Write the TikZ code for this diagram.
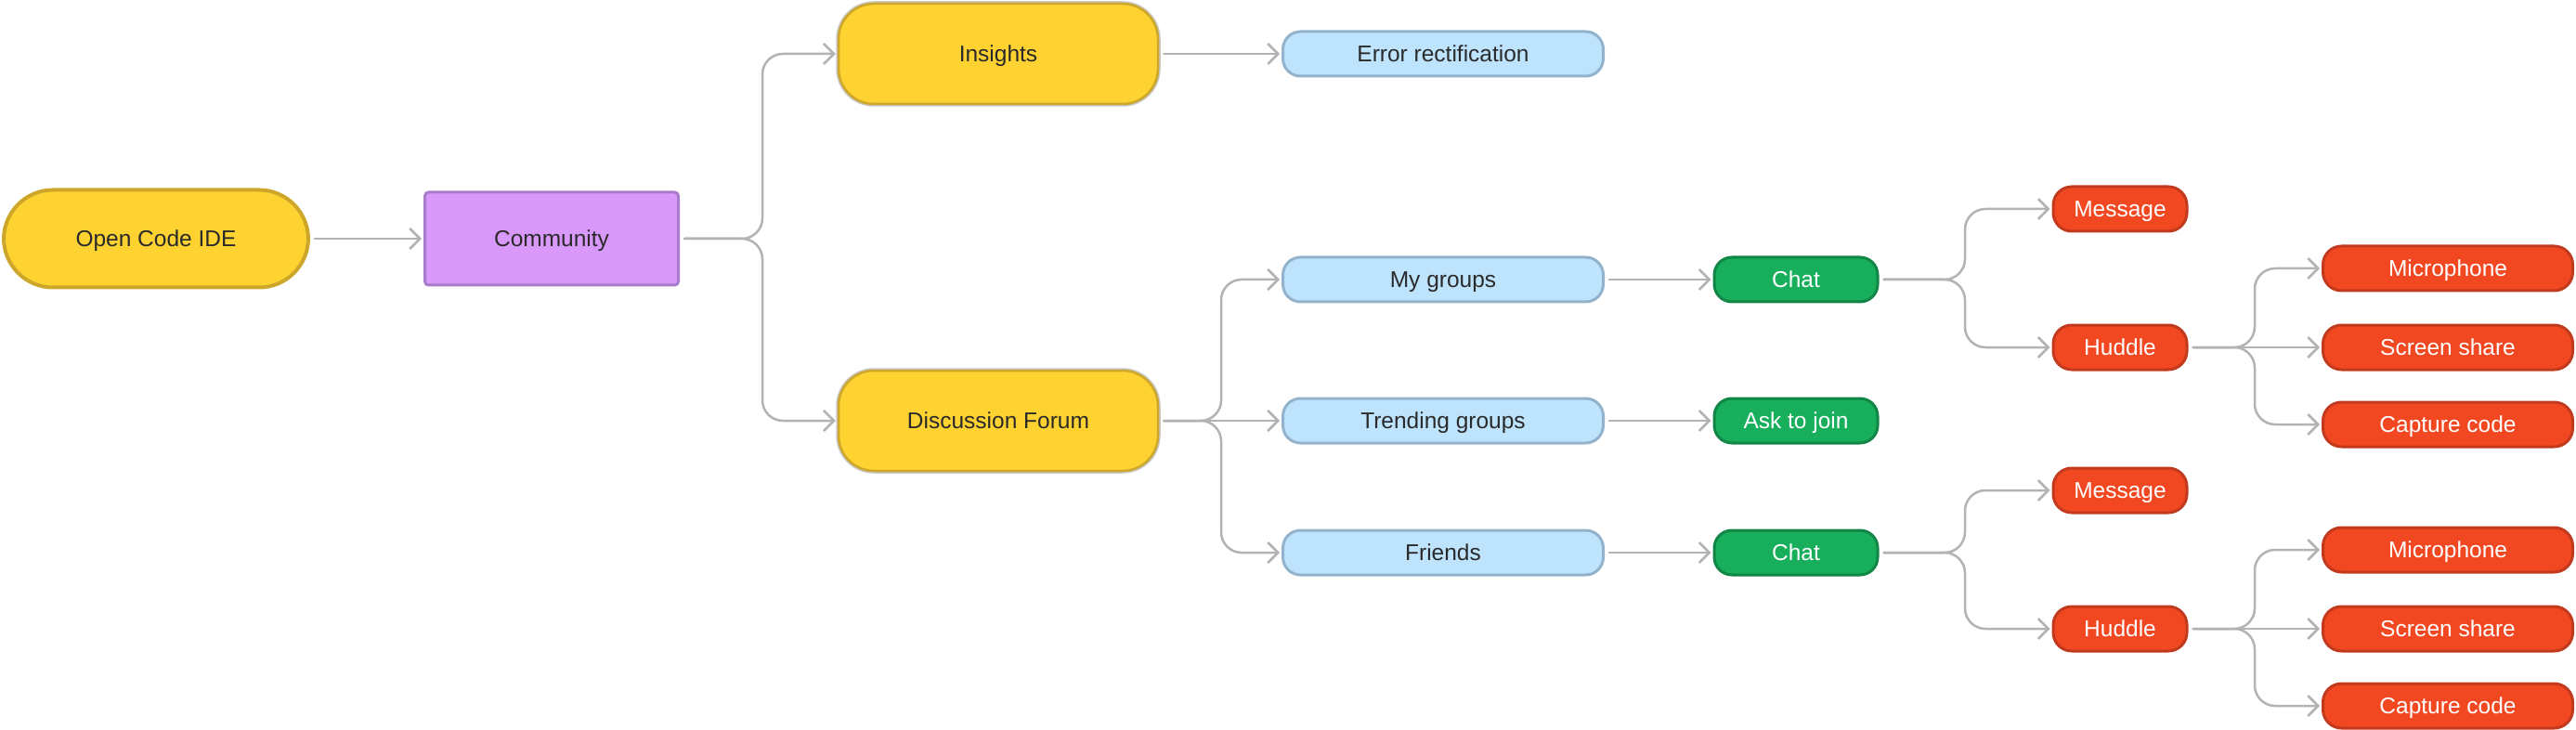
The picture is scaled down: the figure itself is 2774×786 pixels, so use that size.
\documentclass[tikz,border=0pt]{standalone}
\usepackage{fontspec}
\setmainfont{Liberation Sans}
\usetikzlibrary{arrows.meta}
\definecolor{txt}{HTML}{2A2A2A}
\definecolor{yel}{HTML}{FDD231}
\definecolor{yelB}{HTML}{CDA72A}
\definecolor{pur}{HTML}{D899FB}
\definecolor{purB}{HTML}{A87BCB}
\definecolor{blu}{HTML}{BEE3FD}
\definecolor{bluB}{HTML}{93B3CC}
\definecolor{grn}{HTML}{17AE5C}
\definecolor{grnB}{HTML}{128647}
\definecolor{rd}{HTML}{F24822}
\definecolor{rdB}{HTML}{C23A1D}
\definecolor{lineC}{HTML}{B3B3B3}
\definecolor{halo}{HTML}{C8C8C8}
\begin{document}
\begin{tikzpicture}[x=1pt,y=-1pt,
  base/.style={inner sep=0pt, align=center, font=\fontsize{24.5}{28}\selectfont, text=txt, text height=17.5pt, text depth=0pt},
  idebox/.style={base, draw=yelB, fill=yel, line width=4pt, rounded corners=53pt, minimum width=328pt, minimum height=105pt},
  yelbox/.style={base, draw=yelB, fill=yel, line width=2.5pt, rounded corners=38pt, minimum width=344pt, minimum height=108pt,
     preaction={draw=halo, line width=5.5pt}},
  purbox/.style={base, draw=purB, fill=pur, line width=3pt, rounded corners=4pt, minimum width=273pt, minimum height=100pt},
  blubox/.style={base, draw=bluB, fill=blu, line width=3pt, rounded corners=19pt, minimum width=345pt, minimum height=48pt},
  grnbox/.style={base, draw=grnB, fill=grn, text=white, line width=3pt, rounded corners=19pt, minimum width=176pt, minimum height=48pt},
  redbox/.style={base, draw=rdB, fill=rd, text=white, line width=3pt, rounded corners=20pt, minimum height=48pt},
  smallred/.style={redbox, minimum width=144pt},
  widered/.style={redbox, minimum width=269pt},
  conn/.style={draw=lineC, line width=2.5pt, -{Straight Barb[length=11pt,width=22pt]}, shorten <=5pt, shorten >=2pt,
     rounded corners=22pt, line cap=round, line join=round}
]
\useasboundingbox (0,0) rectangle (2774,786);

% nodes
\node[idebox] (ide) at (168,257) {Open Code IDE};
\node[purbox] (comm) at (594,257) {Community};
\node[yelbox] (ins) at (1075,58) {Insights};
\node[blubox] (err) at (1554,58) {Error rectification};
\node[yelbox] (df) at (1075,453) {Discussion Forum};
\node[blubox] (myg) at (1554,301) {My groups};
\node[blubox] (trg) at (1554,453) {Trending groups};
\node[blubox] (frd) at (1554,595) {Friends};
\node[grnbox] (chatA) at (1934,301) {Chat};
\node[grnbox] (ask) at (1934,453) {Ask to join};
\node[grnbox] (chatB) at (1934,595) {Chat};
\node[smallred] (msgA) at (2283,225) {Message};
\node[smallred] (hudA) at (2283,374) {Huddle};
\node[widered] (micA) at (2636,289) {Microphone};
\node[widered] (scrA) at (2636,374) {Screen share};
\node[widered] (capA) at (2636,457) {Capture code};
\node[smallred] (msgB) at (2283,528) {Message};
\node[smallred] (hudB) at (2283,677) {Huddle};
\node[widered] (micB) at (2636,592) {Microphone};
\node[widered] (scrB) at (2636,677) {Screen share};
\node[widered] (capB) at (2636,760) {Capture code};

% junctions
\coordinate (jC) at (821,257);
\coordinate (jD) at (1315,453);
\coordinate (jA) at (2116,301);
\coordinate (jB) at (2116,595);
\coordinate (jHA) at (2428,374);
\coordinate (jHB) at (2428,677);

% connectors
\draw[conn] (ide.east) -- (comm.west);
\draw[conn] (comm.east) -- (jC) |- (ins.west);
\draw[conn] (comm.east) -- (jC) |- (df.west);
\draw[conn] (ins.east) -- (err.west);
\draw[conn] (df.east) -- (jD) |- (myg.west);
\draw[conn] (df.east) -- (trg.west);
\draw[conn] (df.east) -- (jD) |- (frd.west);
\draw[conn] (myg.east) -- (chatA.west);
\draw[conn] (trg.east) -- (ask.west);
\draw[conn] (frd.east) -- (chatB.west);
\draw[conn] (chatA.east) -- (jA) |- (msgA.west);
\draw[conn] (chatA.east) -- (jA) |- (hudA.west);
\draw[conn] (chatB.east) -- (jB) |- (msgB.west);
\draw[conn] (chatB.east) -- (jB) |- (hudB.west);
\draw[conn] (hudA.east) -- (jHA) |- (micA.west);
\draw[conn] (hudA.east) -- (scrA.west);
\draw[conn] (hudA.east) -- (jHA) |- (capA.west);
\draw[conn] (hudB.east) -- (jHB) |- (micB.west);
\draw[conn] (hudB.east) -- (scrB.west);
\draw[conn] (hudB.east) -- (jHB) |- (capB.west);
\end{tikzpicture}
\end{document}
